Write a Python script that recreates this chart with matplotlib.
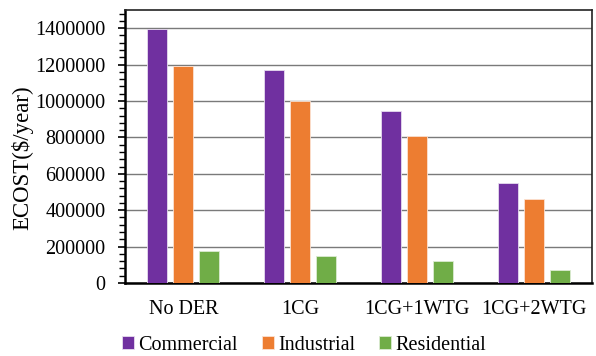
import numpy as np
import matplotlib.pyplot as plt
from matplotlib.ticker import MultipleLocator, StrMethodFormatter

plt.rcParams['font.family'] = 'Liberation Serif'

# ECOST per scenario and customer type ($/year)
scenarios = ['No DER', '1CG', '1CG+1WTG', '1CG+2WTG']
commercial = [1395000, 1173000, 946000, 547000]
industrial = [1191000, 1001000, 805000, 461000]
residential = [175000, 148000, 121000, 71000]

colors = ['#7030A0', '#ED7D31', '#70AD47']

fig = plt.figure(figsize=(5.96, 3.56), dpi=100)
ax = fig.add_axes([0.2097, 0.2051, 0.7836, 0.7668])

x = np.arange(len(scenarios))
w = 0.171
step = 0.223
ax.bar(x - step, commercial, w, color=colors[0], edgecolor='#e6dcef', linewidth=0.6, label='Commercial', zorder=3)
ax.bar(x, industrial, w, color=colors[1], edgecolor='#fbe2d2', linewidth=0.6, label='Industrial', zorder=3)
ax.bar(x + step, residential, w, color=colors[2], edgecolor='#dcebd2', linewidth=0.6, label='Residential', zorder=3)

ax.set_xlim(-0.5, len(scenarios) - 0.5)
ax.set_ylim(0, 1500000)
ax.yaxis.set_major_locator(MultipleLocator(200000))
ax.yaxis.set_minor_locator(MultipleLocator(40000))
ax.yaxis.set_major_formatter(StrMethodFormatter('{x:.0f}'))
ax.grid(axis='y', color='#7a7a7a', linewidth=1.0, zorder=0)
ax.set_axisbelow(True)

ax.set_xticks(x)
ax.set_xticklabels(scenarios, fontsize=14.5)
ax.tick_params(axis='x', length=0, pad=12)
ax.tick_params(axis='y', which='major', length=5, width=1.2, labelsize=14.5, pad=9)
ax.tick_params(axis='y', which='minor', length=4, width=1.0)

for side in ['left', 'bottom']:
    ax.spines[side].set_linewidth(1.8)
for side in ['top', 'right']:
    ax.spines[side].set_linewidth(1.2)
    ax.spines[side].set_color('#222222')

ax.set_ylabel('ECOST($/year)', fontsize=16.5)
ax.yaxis.set_label_coords(-0.197, 0.46)

fig.legend(loc='center', bbox_to_anchor=(0.51, 0.03), ncol=3, frameon=False,
           fontsize=14.5, handlelength=0.6, handleheight=0.6, handletextpad=0.2,
           columnspacing=1.2)

fig.savefig('out.png', dpi=100)
